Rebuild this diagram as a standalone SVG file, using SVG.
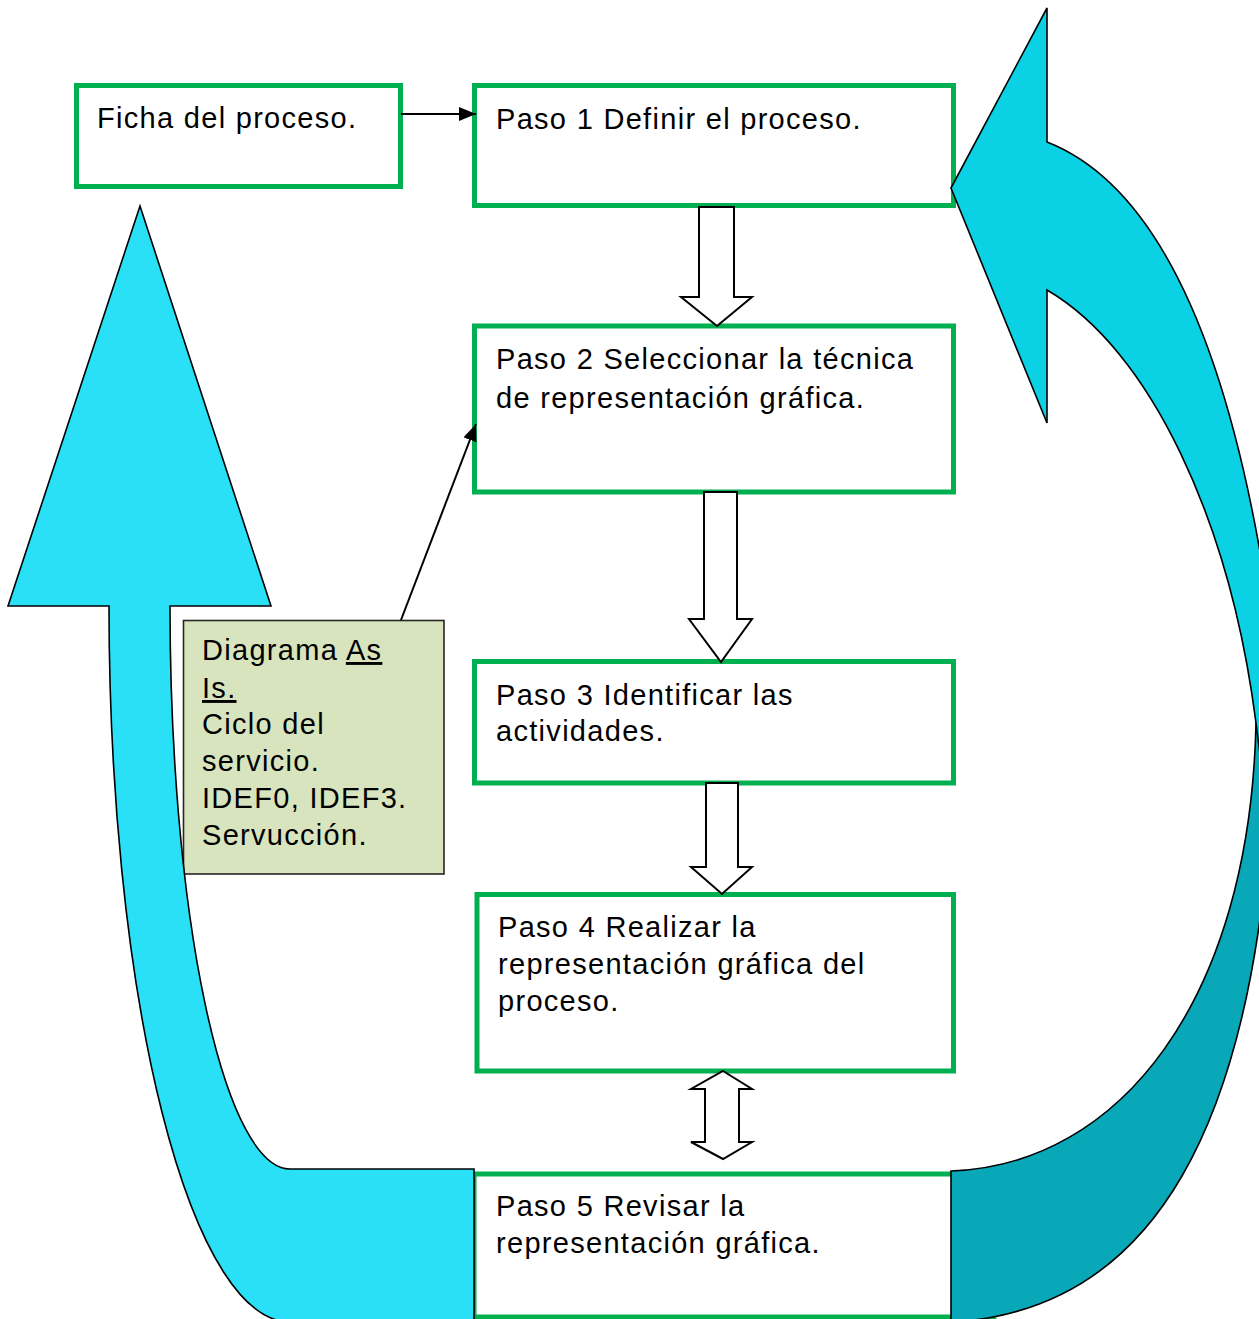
<svg xmlns="http://www.w3.org/2000/svg" width="1259" height="1319" viewBox="0 0 1259 1319">
  <style>
    .step { fill: #ffffff; stroke: #00b050; stroke-width: 5; }
    .note { fill: #d7e4bd; stroke: #262626; stroke-width: 1.6; }
    .label { font-family: "Liberation Sans", Arial, sans-serif; font-size: 29px; letter-spacing: 1.3px; fill: #000000; }
    .u { text-decoration: underline; }
    .block { fill: #ffffff; stroke: #000000; stroke-width: 2; stroke-linejoin: miter; }
    .link { fill: none; stroke: #000000; stroke-width: 2; }
    .loop { stroke: #000000; stroke-width: 1.6; stroke-linejoin: miter; }
  </style>
  <defs>
    <marker id="head" viewBox="0 0 17 14" refX="17" refY="7" markerWidth="17" markerHeight="14" markerUnits="userSpaceOnUse" orient="auto">
      <path d="M0,0 L17,7 L0,14 Z" fill="#000000"/>
    </marker>
  </defs>

  <rect width="1259" height="1319" fill="#ffffff"/>

  <!-- process steps -->
  <g id="ficha">
    <rect class="step" x="76.5" y="85.5" width="324" height="101"/>
    <text class="label" x="97" y="128">Ficha del proceso.</text>
  </g>

  <g id="paso1">
    <rect class="step" x="474.5" y="85.5" width="479" height="120"/>
    <text class="label" x="496" y="129">Paso 1 Definir el proceso.</text>
  </g>

  <g id="paso2">
    <rect class="step" x="474.5" y="326" width="479" height="166"/>
    <text class="label" x="496" y="369">Paso 2 Seleccionar la técnica</text>
    <text class="label" x="496" y="408">de representación gráfica.</text>
  </g>

  <g id="paso3">
    <rect class="step" x="474.5" y="661.5" width="479" height="121.5"/>
    <text class="label" x="496" y="705">Paso 3 Identificar las</text>
    <text class="label" x="496" y="741">actividades.</text>
  </g>

  <g id="paso4">
    <rect class="step" x="477" y="894.5" width="476.5" height="176.5"/>
    <text class="label" x="498" y="937">Paso 4 Realizar la</text>
    <text class="label" x="498" y="974">representación gráfica del</text>
    <text class="label" x="498" y="1011">proceso.</text>
  </g>

  <g id="paso5">
    <rect class="step" x="474" y="1174" width="520" height="143"/>
    <text class="label" x="496" y="1216">Paso 5 Revisar la</text>
    <text class="label" x="496" y="1253">representación gráfica.</text>
  </g>

  <g id="tecnicas">
    <rect class="note" x="183.5" y="620.5" width="260.5" height="253.5"/>
    <text class="label" x="202" y="660">Diagrama <tspan class="u">As</tspan></text>
    <text class="label u" x="202" y="698">Is.</text>
    <text class="label" x="202" y="734">Ciclo del</text>
    <text class="label" x="202" y="771">servicio.</text>
    <text class="label" x="202" y="808">IDEF0, IDEF3.</text>
    <text class="label" x="202" y="845">Servucción.</text>
  </g>

  <!-- connectors -->
  <g id="connectors">
    <line class="link" x1="401" y1="114" x2="476" y2="114" marker-end="url(#head)"/>
    <line class="link" x1="401" y1="620" x2="476" y2="424" marker-end="url(#head)"/>

    <path class="block" d="M699,207 L734,207 L734,297 L752,297 L717,326 L681,297 L699,297 Z"/>
    <path class="block" d="M704,492 L737,492 L737,619 L752,619 L721,662 L689,619 L704,619 Z"/>
    <path class="block" d="M706,783 L738,783 L738,867 L752,867 L722,894 L691,867 L706,867 Z"/>
    <path class="block" d="M723,1071 L752,1089 L739,1089 L739,1142 L752,1142 L723,1159 L691,1142 L705,1142 L705,1089 L691,1089 Z"/>

    <!-- left return arrow: from step 5 up towards the process sheet -->
    <path class="loop" fill="#29e0f7" d="M140,206 L271,606 L170,606 A120,563 0 0 0 290,1169 L474,1169 L474,1322 L290,1322 A181,716 0 0 1 109,606 L8,606 Z"/>

    <!-- right return arrow: back band (lower) -->
    <path class="loop" fill="#09a8b9" d="M951,1171 L951,1322 C1140,1312 1270,1150 1275,700 L1266,640 L1256,723 C1250,1000 1120,1165 951,1171 Z"/>
    <!-- right return arrow: front band with head pointing at step 1 -->
    <path class="loop" fill="#0bd1e5" d="M951,188 L1047,8 L1047,142 C1170,190 1240,380 1275,650 L1275,800 L1266,800 L1256,723 C1230,520 1150,350 1047,290 L1047,423 Z"/>
  </g>
</svg>
